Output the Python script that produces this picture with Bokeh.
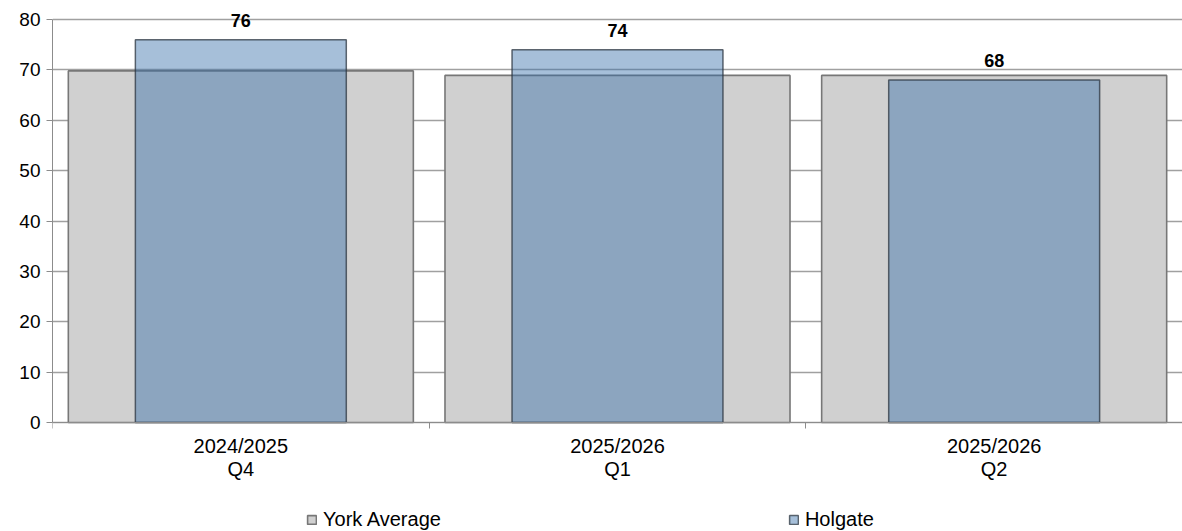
from bokeh.plotting import figure
from bokeh.models import Range1d, FixedTicker, Legend, LegendItem, ColumnDataSource, LabelSet
from bokeh.embed import file_html
from bokeh.resources import INLINE
from bokeh.core.properties import value

categories = ["2024/2025\nQ4", "2025/2026\nQ1", "2025/2026\nQ2"]
york_average = [69.8, 68.9, 68.9]
holgate = [76, 74, 68]
y_ticks = [0, 10, 20, 30, 40, 50, 60, 70, 80]

FONT = "Liberation Sans"
x_pos = [i + 0.5 for i in range(len(categories))]
bounds = [float(i) for i in range(len(categories) + 1)]

src = ColumnDataSource(dict(x=x_pos, york=york_average, hol=holgate,
                            lbl=[str(v) for v in holgate]))

# the frame fills the whole height; value 0 sits at 422px, 80 at 19px
PX = 403 / 80
y_top = 80 + 19 / PX
y_bot = -(531 - 422) / PX
p = figure(frame_width=1130, frame_height=531, x_range=Range1d(0, 3), y_range=Range1d(y_bot, y_top),
           output_backend="svg", toolbar_location=None,
           min_border_left=52, min_border_right=0, min_border_top=0, min_border_bottom=0)
p.outline_line_color = None
p.background_fill_color = "white"

r1 = p.vbar(x="x", top="york", width=0.916, bottom=0, source=src,
            fill_color="#d0d0d0", line_color="#777777", line_width=1.6)
r2 = p.vbar(x="x", top="hol", width=0.56, bottom=0, source=src,
            fill_color="#356ea9", fill_alpha=0.44, line_color="#2c3640", line_alpha=0.75, line_width=1.5)

labels = LabelSet(x="x", y="hol", text="lbl", source=src, text_align="center",
                  text_baseline="bottom", y_offset=13, text_font=value(FONT),
                  text_font_size=value("18px"), text_font_style=value("bold"),
                  text_color=value("black"))
p.add_layout(labels)

# axes
p.yaxis.ticker = FixedTicker(ticks=y_ticks)
p.yaxis.bounds = (0, 80)
p.yaxis.axis_line_color = "#8c8c8c"
p.yaxis.major_tick_line_color = "#8c8c8c"
p.yaxis.major_tick_out = 6
p.yaxis.major_tick_in = 0
p.yaxis.minor_tick_line_color = None
p.yaxis.major_label_text_font = FONT
p.yaxis.major_label_text_font_size = "19px"
p.yaxis.major_label_text_color = "black"
p.yaxis.major_label_standoff = 6

p.xaxis.fixed_location = 0
p.xaxis.ticker = FixedTicker(ticks=x_pos, minor_ticks=bounds)
p.xaxis.major_label_overrides = {x: c for x, c in zip(x_pos, categories)}
p.xaxis.axis_line_color = "#8c8c8c"
p.xaxis.major_tick_line_color = None
p.xaxis.minor_tick_line_color = "#8c8c8c"
p.xaxis.minor_tick_out = 6
p.xaxis.minor_tick_in = 0
p.xaxis.major_label_text_font = FONT
p.xaxis.major_label_text_font_size = "20px"
p.xaxis.major_label_text_color = "black"
p.xaxis.major_label_text_line_height = 1.05
p.xaxis.major_label_standoff = 6

p.xgrid.grid_line_color = None
p.ygrid.ticker = FixedTicker(ticks=y_ticks)
p.ygrid.grid_line_color = "#a0a0a0"
p.ygrid.grid_line_width = 1.5

legend = Legend(items=[LegendItem(label="York Average", renderers=[r1]),
                       LegendItem(label="Holgate", renderers=[r2])],
                orientation="horizontal", location=(254, 0), spacing=347,
                label_text_font=FONT, label_text_font_size="20px", label_text_color="black",
                glyph_width=11, glyph_height=11, label_standoff=6,
                border_line_color=None, background_fill_alpha=0, padding=0, margin=0)
p.add_layout(legend)

open("out.html", "w").write(file_html(p, INLINE))
